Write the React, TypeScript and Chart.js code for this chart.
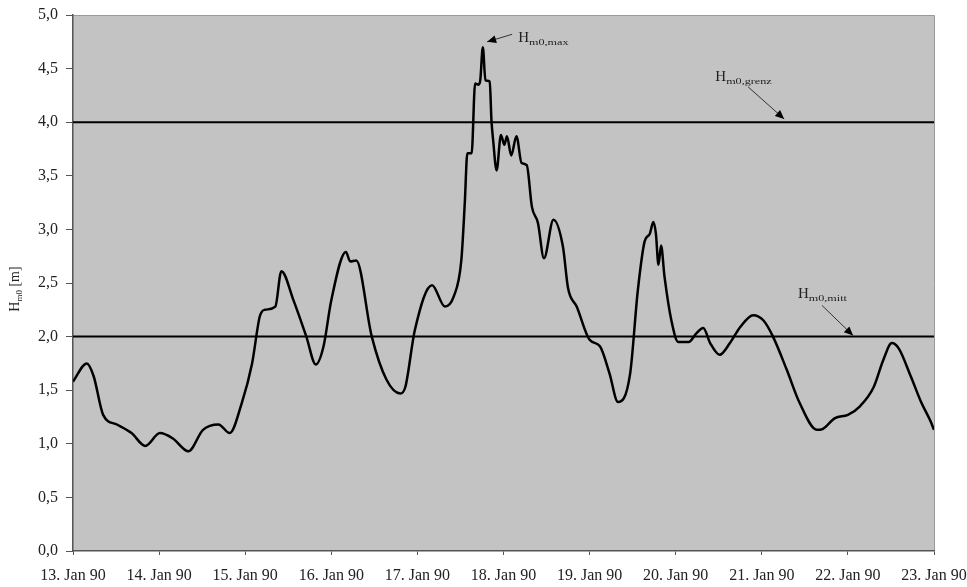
import React, { useEffect, useRef } from "react";
import { Chart, registerables } from "chart.js";

Chart.register(...registerables);

// Time axis in days of January 1990
const dayTicks = [13, 14, 15, 16, 17, 18, 19, 20, 21, 22, 23];
const tickMonth = "Jan 90";

// Significant wave height Hm0 [m]
const days = [
  13.0, 13.16, 13.24, 13.35, 13.51, 13.68, 13.84, 14.01, 14.16, 14.34, 14.51, 14.69, 14.82, 14.96,
  15.08, 15.17, 15.23, 15.35, 15.42, 15.56, 15.71, 15.82, 15.91, 16.0, 16.17, 16.22, 16.29, 16.47,
  16.64, 16.8, 16.86, 16.97, 17.17, 17.32, 17.42, 17.51, 17.55, 17.58, 17.63, 17.67, 17.71, 17.73,
  17.76, 17.79, 17.84, 17.86, 17.88, 17.92, 17.97, 18.01, 18.04, 18.09, 18.15, 18.21, 18.27, 18.33,
  18.4, 18.47, 18.58, 18.69, 18.75, 18.85, 19.0, 19.12, 19.23, 19.33, 19.47, 19.56, 19.64, 19.7,
  19.74, 19.77, 19.8, 19.83, 19.87, 19.95, 20.03, 20.15, 20.24, 20.32, 20.4, 20.51, 20.63, 20.75,
  20.9, 21.02, 21.13, 21.29, 21.44, 21.64, 21.71, 21.85, 22.0, 22.14, 22.3, 22.41, 22.51, 22.59,
  22.73, 22.85, 22.96, 23.0,
];
const hm0 = [
  1.58, 1.75, 1.63, 1.27, 1.18, 1.1, 0.98, 1.1, 1.05, 0.93, 1.13, 1.18, 1.1, 1.38,
  1.75, 2.19, 2.25, 2.28, 2.61, 2.34, 2.0, 1.74, 1.91, 2.34, 2.79, 2.7, 2.71, 2.0,
  1.6, 1.47, 1.53, 2.06, 2.48, 2.28, 2.37, 2.71, 3.24, 3.71, 3.71, 4.36, 4.35, 4.39,
  4.7, 4.39, 4.38, 4.02, 3.83, 3.55, 3.88, 3.79, 3.87, 3.69, 3.87, 3.62, 3.6, 3.21,
  3.06, 2.73, 3.09, 2.84, 2.45, 2.28, 1.97, 1.91, 1.66, 1.39, 1.65, 2.43, 2.89, 2.96,
  3.07, 2.96, 2.67, 2.85, 2.56, 2.15, 1.95, 1.95, 2.03, 2.08, 1.94, 1.83, 1.94, 2.09,
  2.2, 2.15, 2.0, 1.69, 1.38, 1.13, 1.14, 1.24, 1.27, 1.35, 1.53, 1.78, 1.94, 1.89,
  1.63, 1.39, 1.21, 1.13,
];

// Reference levels
const lineDays = [13, 23];
const hm0Grenz = 4.0;
const hm0Mitt = 2.0;

// Annotations (data coordinates)
const annotSub = ["m0,max", "m0,grenz", "m0,mitt"];
const annotLabelDay = [18.17, 20.46, 21.42];
const annotLabelVal = [4.75, 4.38, 2.36];
const annotTailDay = [18.1, 20.84, 21.7];
const annotTailVal = [4.82, 4.33, 2.29];
const annotTipDay = [17.81, 21.26, 22.06];
const annotTipVal = [4.75, 4.03, 2.01];

const SERIF = "'Liberation Serif', 'DejaVu Serif', serif";

const decoPlugin = {
  id: "deco",
  beforeDraw(chart: any) {
    const { ctx, chartArea } = chart;
    ctx.save();
    ctx.fillStyle = "#ffffff";
    ctx.fillRect(0, 0, chart.width, chart.height);
    ctx.fillStyle = "#c3c3c3";
    ctx.fillRect(chartArea.left, chartArea.top, chartArea.right - chartArea.left, chartArea.bottom - chartArea.top);
    ctx.strokeStyle = "#9a9a9a";
    ctx.lineWidth = 1;
    ctx.beginPath();
    ctx.moveTo(chartArea.left, chartArea.top + 0.5);
    ctx.lineTo(chartArea.right + 0.5, chartArea.top + 0.5);
    ctx.lineTo(chartArea.right + 0.5, chartArea.bottom);
    ctx.stroke();
    ctx.restore();
  },
  afterDraw(chart: any) {
    const { ctx, scales, chartArea } = chart;
    const xs = scales.x;
    const ys = scales.y;
    ctx.save();
    // annotations
    for (let i = 0; i < annotSub.length; i++) {
      const lx = xs.getPixelForValue(annotLabelDay[i]);
      const ly = ys.getPixelForValue(annotLabelVal[i]);
      ctx.fillStyle = "#222";
      ctx.textBaseline = "alphabetic";
      ctx.textAlign = "left";
      ctx.font = `15px ${SERIF}`;
      ctx.fillText("H", lx, ly);
      const hw = ctx.measureText("H").width;
      ctx.save();
      ctx.translate(lx + hw, ly + 3);
      ctx.scale(1.35, 1);
      ctx.font = `9px ${SERIF}`;
      ctx.fillText(annotSub[i], 0, 0);
      ctx.restore();
      // arrow
      const tx = xs.getPixelForValue(annotTailDay[i]);
      const ty = ys.getPixelForValue(annotTailVal[i]);
      const px = xs.getPixelForValue(annotTipDay[i]);
      const py = ys.getPixelForValue(annotTipVal[i]);
      ctx.strokeStyle = "#333";
      ctx.lineWidth = 1;
      ctx.beginPath();
      ctx.moveTo(tx, ty);
      ctx.lineTo(px, py);
      ctx.stroke();
      const ang = Math.atan2(py - ty, px - tx);
      const len = 9;
      const wid = 4;
      ctx.fillStyle = "#000";
      ctx.beginPath();
      ctx.moveTo(px, py);
      ctx.lineTo(px - len * Math.cos(ang) + wid * Math.sin(ang), py - len * Math.sin(ang) - wid * Math.cos(ang));
      ctx.lineTo(px - len * Math.cos(ang) - wid * Math.sin(ang), py - len * Math.sin(ang) + wid * Math.cos(ang));
      ctx.closePath();
      ctx.fill();
    }
    // y-axis title with subscript
    const cy = (chartArea.top + chartArea.bottom) / 2 + 6;
    ctx.translate(19, cy);
    ctx.rotate(-Math.PI / 2);
    ctx.fillStyle = "#222";
    ctx.textBaseline = "alphabetic";
    ctx.font = `14px ${SERIF}`;
    const wH = ctx.measureText("H").width;
    ctx.font = `9px ${SERIF}`;
    const wSub = ctx.measureText("m0").width;
    ctx.font = `14px ${SERIF}`;
    const wRest = ctx.measureText(" [m]").width;
    const total = wH + wSub + wRest;
    let x0 = -total / 2;
    ctx.textAlign = "left";
    ctx.fillText("H", x0, 0);
    x0 += wH;
    ctx.font = `9px ${SERIF}`;
    ctx.fillText("m0", x0, 3);
    x0 += wSub;
    ctx.font = `14px ${SERIF}`;
    ctx.fillText(" [m]", x0, 0);
    ctx.restore();
  },
};

export default function App() {
  const ref = useRef<HTMLCanvasElement | null>(null);
  useEffect(() => {
    if (!ref.current) return;
    const seriesPts = days.map((d, i) => ({ x: d, y: hm0[i] }));
    const grenzPts = lineDays.map((d) => ({ x: d, y: hm0Grenz }));
    const mittPts = lineDays.map((d) => ({ x: d, y: hm0Mitt }));
    const chart = new Chart(ref.current, {
      type: "line",
      data: {
        datasets: [
          {
            data: grenzPts,
            borderColor: "#000",
            borderWidth: 2,
            pointRadius: 0,
            fill: false,
          },
          {
            data: mittPts,
            borderColor: "#000",
            borderWidth: 2,
            pointRadius: 0,
            fill: false,
          },
          {
            data: seriesPts,
            borderColor: "#000",
            borderWidth: 2.5,
            pointRadius: 0,
            fill: false,
            cubicInterpolationMode: "monotone",
          },
        ],
      },
      options: {
        animation: false,
        responsive: true,
        maintainAspectRatio: false,
        layout: { padding: { left: 0, top: 15, right: 33, bottom: 0 } },
        plugins: { legend: { display: false }, tooltip: { enabled: false } },
        scales: {
          x: {
            type: "linear",
            min: dayTicks[0],
            max: dayTicks[dayTicks.length - 1],
            afterBuildTicks: (scale: any) => {
              scale.ticks = dayTicks.map((v) => ({ value: v }));
            },
            ticks: {
              callback: (v: any) => `${v}. ${tickMonth}`,
              color: "#222",
              font: { family: SERIF, size: 16 },
              padding: 11,
              maxRotation: 0,
              autoSkip: false,
            },
            grid: { drawOnChartArea: false, drawTicks: true, tickLength: 4, color: "#555" },
            border: { display: true, color: "#555", width: 1.5 },
            afterFit: (scale: any) => {
              scale.height = 36;
              scale.paddingLeft = 0;
              scale.paddingRight = 0;
            },
          },
          y: {
            min: 0,
            max: 5,
            ticks: {
              stepSize: 0.5,
              callback: (v: any) => Number(v).toFixed(1).replace(".", ","),
              color: "#222",
              font: { family: SERIF, size: 16 },
              padding: 8,
            },
            grid: { drawOnChartArea: false, drawTicks: true, tickLength: 7, color: "#555" },
            border: { display: true, color: "#555", width: 1.5 },
            afterFit: (scale: any) => {
              scale.width = 73;
              scale.paddingTop = 0;
              scale.paddingBottom = 0;
            },
          },
        },
      },
      plugins: [decoPlugin],
    } as any);
    return () => chart.destroy();
  }, []);
  return (
    <div style={{ position: "fixed", left: 0, top: 0, width: 967, height: 587, background: "#fff" }}>
      <canvas ref={ref} />
    </div>
  );
}
